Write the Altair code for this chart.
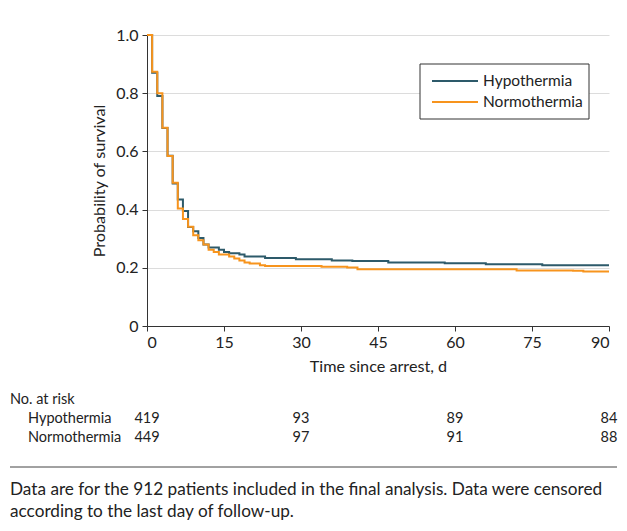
import altair as alt
import pandas as pd

# ---------------- data ----------------
groups = ["Hypothermia", "Normothermia"]
colors = ["#2d5a6a", "#f7941d"]

hypo_days = [0, 1, 2, 3, 4, 5, 6, 7, 8, 9, 10, 11, 12, 14, 15, 16, 18, 19, 23, 29, 36, 40, 47, 58, 66, 77, 90]
hypo_surv = [1.0, 0.87, 0.79, 0.68, 0.585, 0.49, 0.435, 0.395, 0.34, 0.326, 0.302, 0.28, 0.27,
             0.262, 0.254, 0.25, 0.246, 0.239, 0.234, 0.229, 0.225, 0.223, 0.218, 0.216, 0.212, 0.209, 0.209]

normo_days = [0, 1, 2, 3, 4, 5, 6, 7, 8, 9, 10, 11, 12, 13, 14, 16, 17, 18, 19, 20, 22, 23, 34, 39, 41, 72, 83, 85, 90]
normo_surv = [1.0, 0.874, 0.80, 0.681, 0.584, 0.492, 0.404, 0.368, 0.341, 0.312, 0.295, 0.28, 0.262,
              0.254, 0.246, 0.239, 0.232, 0.225, 0.218, 0.215, 0.209, 0.206, 0.204, 0.201, 0.195, 0.191,
              0.19, 0.187, 0.187]

x_ticks = [0, 15, 30, 45, 60, 75, 90]
y_ticks = [0, 0.2, 0.4, 0.6, 0.8, 1.0]

risk_days = [0, 30, 60, 90]
risk_hypo = [419, 93, 89, 84]
risk_normo = [449, 97, 91, 88]

risk_title = "No. at risk"
caption_lines = [
    "Data are for the 912 patients included in the final analysis. Data were censored",
    "according to the last day of follow-up.",
]

FONT = "Lato"
TXT = "#222"
W, H = 462, 291

curves = pd.DataFrame(
    [{"Time": t, "Survival": s, "Group": groups[0], "idx": i} for i, (t, s) in enumerate(zip(hypo_days, hypo_surv))]
    + [{"Time": t, "Survival": s, "Group": groups[1], "idx": i} for i, (t, s) in enumerate(zip(normo_days, normo_surv))]
)

xscale = alt.Scale(domain=[0, 90], nice=False)
yscale = alt.Scale(domain=[0, 1], nice=False)
cscale = alt.Scale(domain=groups, range=colors)

lines = alt.Chart(curves).mark_line(interpolate="step-after", strokeWidth=2).encode(
    x=alt.X("Time:Q", scale=xscale,
            axis=alt.Axis(values=x_ticks, title="Time since arrest, d", grid=False)),
    y=alt.Y("Survival:Q", scale=yscale,
            axis=alt.Axis(values=y_ticks, title="Probability of survival", grid=True,
                          labelExpr="datum.value == 0 ? '0' : format(datum.value, '.1f')")),
    color=alt.Color("Group:N", scale=cscale, legend=None),
    order="idx:Q",
)

# ----- legend (drawn inside the plot, boxed) -----
leg_df = pd.DataFrame({"Group": groups, "row": [0, 1]})
leg_box = alt.Chart(pd.DataFrame({"a": [0]})).mark_rect(
    fill="white", stroke="#333", strokeWidth=1).encode(
    x=alt.value(273), x2=alt.value(442), y=alt.value(29), y2=alt.value(84))
leg_lines = alt.layer(*[
    alt.Chart(leg_df[leg_df.Group == g]).mark_rule(strokeWidth=2).encode(
        x=alt.value(285), x2=alt.value(331), y=alt.value(46 + 21 * i),
        color=alt.Color("Group:N", scale=cscale, legend=None))
    for i, g in enumerate(groups)
])
leg_text = alt.layer(*[
    alt.Chart(leg_df[leg_df.Group == g]).mark_text(
        fontSize=15.5, font=FONT, color=TXT, align="left", baseline="middle").encode(
        x=alt.value(336), y=alt.value(46 + 21 * i), text="Group:N")
    for i, g in enumerate(groups)
])

# ----- numbers at risk -----
risk_df = pd.DataFrame({"day": risk_days, "hypo": risk_hypo, "normo": risk_normo})
risk_h = alt.Chart(risk_df).mark_text(fontSize=14.5, font=FONT, color=TXT, baseline="middle").encode(
    x=alt.X("day:Q", scale=xscale), y=alt.value(H + 93), text="hypo:Q")
risk_n = alt.Chart(risk_df).mark_text(fontSize=14.5, font=FONT, color=TXT, baseline="middle").encode(
    x=alt.X("day:Q", scale=xscale), y=alt.value(H + 112), text="normo:Q")

risk_title_txt = alt.Chart(pd.DataFrame({"t": [risk_title]})).mark_text(
    fontSize=14.5, font=FONT, color=TXT, align="left", baseline="middle").encode(
    x=alt.value(-137), y=alt.value(H + 74), text="t:N")
lab_h = alt.Chart(pd.DataFrame({"t": [groups[0]]})).mark_text(
    fontSize=14.5, font=FONT, color=TXT, align="left", baseline="middle").encode(
    x=alt.value(-119), y=alt.value(H + 93), text="t:N")
lab_n = alt.Chart(pd.DataFrame({"t": [groups[1]]})).mark_text(
    fontSize=14.5, font=FONT, color=TXT, align="left", baseline="middle").encode(
    x=alt.value(-119), y=alt.value(H + 112), text="t:N")

cap1 = alt.Chart(pd.DataFrame({"t": [caption_lines[0]]})).mark_text(
    fontSize=17.2, font=FONT, color=TXT, align="left", baseline="middle").encode(
    x=alt.value(-137), y=alt.value(455), text="t:N")
cap2 = alt.Chart(pd.DataFrame({"t": [caption_lines[1]]})).mark_text(
    fontSize=17.2, font=FONT, color=TXT, align="left", baseline="middle").encode(
    x=alt.value(-137), y=alt.value(477), text="t:N")

top_rule = alt.Chart(pd.DataFrame({"a": [0]})).mark_rule(color="#444", strokeWidth=1.5).encode(
    x=alt.value(-137), x2=alt.value(470), y=alt.value(-30))
bot_rule = alt.Chart(pd.DataFrame({"a": [0]})).mark_rule(color="#444", strokeWidth=1).encode(
    x=alt.value(-137), x2=alt.value(470), y=alt.value(432))

chart = alt.layer(
    lines, leg_box, leg_lines, leg_text, risk_h, risk_n, risk_title_txt, lab_h, lab_n,
    cap1, cap2, top_rule, bot_rule
).properties(
    width=W, height=H,
    autosize=alt.AutoSizeParams(type="none"),
    padding={"left": 139, "top": 27, "right": 10, "bottom": 197},
).configure_view(stroke=None).configure_axis(
    labelFont=FONT, titleFont=FONT, labelFontSize=16, titleFontSize=16.2,
    labelColor=TXT, titleColor=TXT, titleFontWeight="normal",
    domainColor="#333", tickColor="#333", tickSize=5, gridColor="#dcdcdc",
).configure_axisX(labelPadding=3, titlePadding=8).configure_axisY(labelPadding=4, titlePadding=8)

chart.save("out.html", embed_options={"renderer": "svg", "actions": False})
